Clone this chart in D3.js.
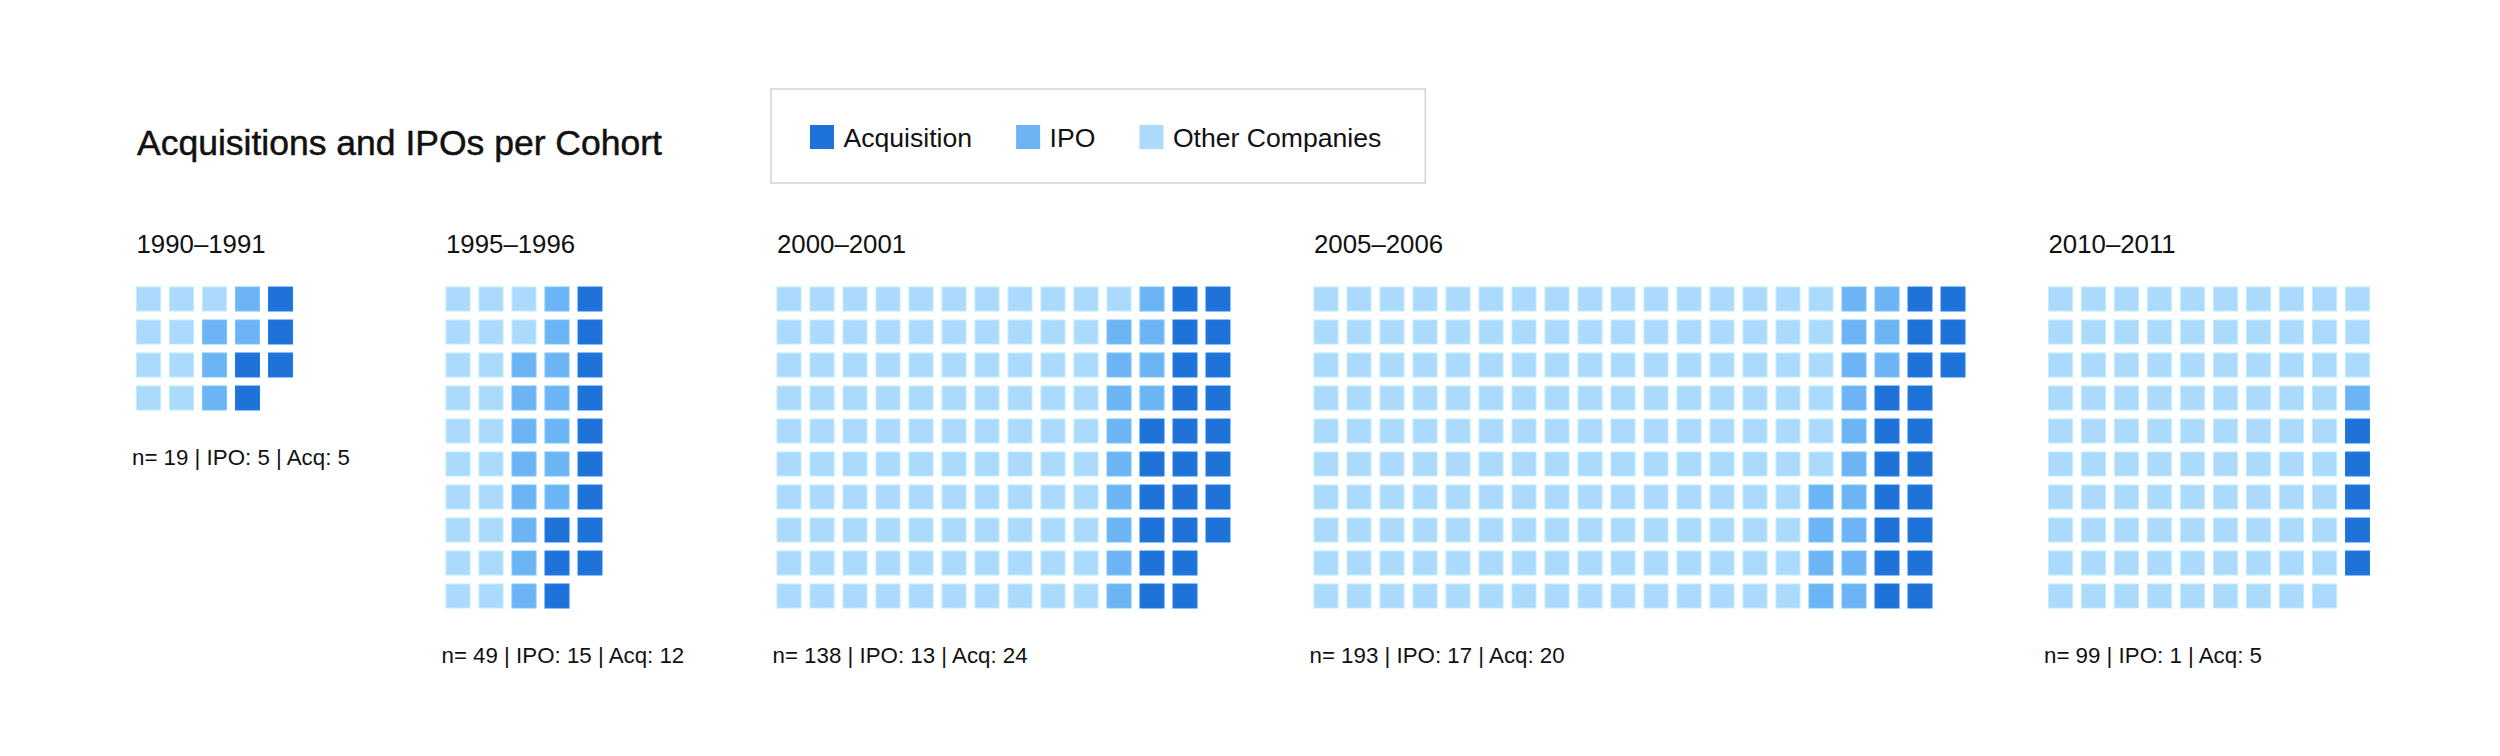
<!DOCTYPE html>
<html>
<head>
<meta charset="utf-8">
<script src="https://cdn.jsdelivr.net/npm/d3@7"></script>
<style>
  html, body { margin: 0; padding: 0; background: #fff; }
  svg { display: block; font-family: "Liberation Sans", Arial, Helvetica, sans-serif; }
</style>
</head>
<body>
<svg id="chart" width="2500" height="756"></svg>
<script>
// ---- data ----
const cohorts = ["1990–1991", "1995–1996", "2000–2001", "2005–2006", "2010–2011"];
const totals = [19, 49, 138, 193, 99];
const ipoCounts = [5, 15, 13, 17, 1];
const acqCounts = [5, 12, 24, 20, 5];
const gridRows = [4, 10, 10, 10, 10];
const categories = ["Acquisition", "IPO", "Other Companies"];
const titleText = "Acquisitions and IPOs per Cohort";

// ---- layout / style ----
const colors = { "Acquisition": "#1e72d8", "IPO": "#6cb4f3", "Other Companies": "#acdafc" };
const cell = 24, gap = 9;
const panelLeft = [136.5, 446, 777, 1314, 2048.5];
const gridTop = 287;
const svg = d3.select("#chart");

svg.append("text")
  .attr("x", 137).attr("y", 155)
  .attr("font-size", 35.5).attr("fill", "#111")
  .attr("stroke", "#111").attr("stroke-width", 0.5)
  .text(titleText);

// legend
const legend = svg.append("g");
const legendBox = legend.append("rect")
  .attr("x", 771).attr("y", 89).attr("height", 94)
  .attr("fill", "#fff").attr("stroke", "#cdd4dd").attr("stroke-width", 1.5);
let lx = 810;
categories.forEach(c => {
  legend.append("rect").attr("x", lx).attr("y", 125).attr("width", cell).attr("height", cell)
    .attr("fill", colors[c]);
  const t = legend.append("text").attr("x", lx + cell + 9.5).attr("y", 147)
    .attr("font-size", 26.6).attr("fill", "#111").text(c);
  lx += cell + 9.5 + t.node().getComputedTextLength() + 44;
});
legendBox.attr("width", lx - 771);

// panels
cohorts.forEach((name, i) => {
  const n = totals[i];
  const nRows = gridRows[i];
  const nCols = Math.ceil(n / nRows);
  const other = n - ipoCounts[i] - acqCounts[i];
  const cells = [];
  for (let k = 0; k < n; k++) {
    const cat = k < other ? "Other Companies" : (k < other + ipoCounts[i] ? "IPO" : "Acquisition");
    cells.push({ k, cat, col: Math.floor(k / nRows), row: k % nRows });
  }
  const x = d3.scaleBand().domain(d3.range(nCols))
    .range([0, nCols * (cell + gap) - gap]).paddingInner(gap / (cell + gap));
  const y = d3.scaleBand().domain(d3.range(nRows))
    .range([0, nRows * (cell + gap) - gap]).paddingInner(gap / (cell + gap));

  const g = svg.append("g").attr("transform", `translate(${panelLeft[i]},0)`);
  g.append("text").attr("x", 0).attr("y", 253)
    .attr("font-size", 25.8).attr("fill", "#111").text(name);

  const grid = g.append("g").attr("transform", `translate(0,${gridTop})`);
  grid.selectAll("rect").data(cells).join("rect")
    .attr("x", d => x(d.col))
    .attr("y", d => y(d.row))
    .attr("width", x.bandwidth())
    .attr("height", y.bandwidth())
    .attr("fill", d => colors[d.cat])
    .attr("stroke", d => d3.color(colors[d.cat]).brighter(0.25))
    .attr("stroke-width", 1);

  const gridBottom = gridTop + y.range()[1];
  g.append("text").attr("x", -4.5).attr("y", gridBottom + 54.5)
    .attr("font-size", 22.3).attr("fill", "#111")
    .text(`n= ${n} | IPO: ${ipoCounts[i]} | Acq: ${acqCounts[i]}`);
});
</script>
</body>
</html>
